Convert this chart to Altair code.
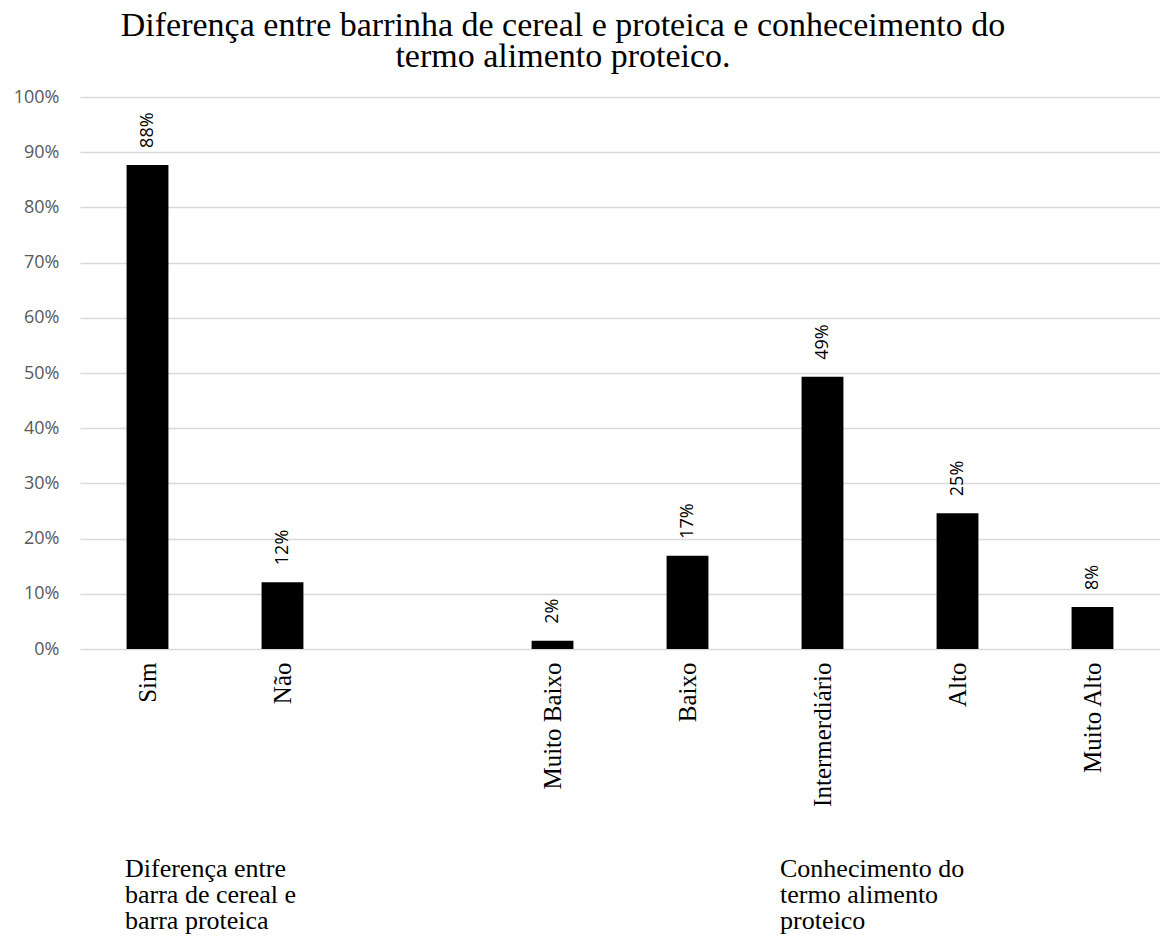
import altair as alt
import pandas as pd

# Category slots on the x axis (" " is the empty gap between the two groups)
categories = ["Sim", "Não", " ", "Muito Baixo", "Baixo", "Intermerdiário", "Alto", "Muito Alto"]
bar_categories = ["Sim", "Não", "Muito Baixo", "Baixo", "Intermerdiário", "Alto", "Muito Alto"]
values = [0.877, 0.121, 0.015, 0.169, 0.493, 0.246, 0.076]
value_labels = ["88%", "12%", "2%", "17%", "49%", "25%", "8%"]
y_ticks = [0.0, 0.1, 0.2, 0.3, 0.4, 0.5, 0.6, 0.7, 0.8, 0.9, 1.0]
title_lines = [
    "Diferença entre barrinha de cereal e proteica e conheceimento do",
    "termo alimento proteico.",
]
group_label_1 = "Diferença entre\nbarra de cereal e\nbarra proteica"
group_label_2 = "Conhecimento do\ntermo alimento\nproteico"

df = pd.DataFrame({"cat": bar_categories, "val": values, "lab": value_labels})

x_enc = alt.X(
    "cat:N",
    sort=categories,
    scale=alt.Scale(domain=categories, paddingInner=0.69, paddingOuter=0.345),
    axis=alt.Axis(
        title=None,
        labelAngle=-90,
        labelFont="Liberation Serif",
        labelFontSize=25,
        labelColor="black",
        labelPadding=13,
        ticks=False,
        domain=False,
        grid=False,
        labelLimit=300,
    ),
)
y_enc = alt.Y(
    "val:Q",
    scale=alt.Scale(domain=[0, 1]),
    axis=alt.Axis(
        title=None,
        values=y_ticks,
        format=".0%",
        labelFont="Open Sans",
        labelFontSize=18,
        labelColor="#595959",
        labelPadding=21,
        ticks=False,
        domain=False,
        gridColor="#d9d9d9",
        gridWidth=1.5,
    ),
)

bars = alt.Chart(df).mark_bar(color="black").encode(x=x_enc, y=y_enc)

texts = alt.Chart(df).mark_text(
    angle=270, align="left", baseline="middle", dx=17,
    font="Open Sans", fontSize=18, color="black",
).encode(x=alt.X("cat:N", sort=categories), y="val:Q", text="lab:N")

g1 = alt.Chart(pd.DataFrame({"t": [group_label_1]})).mark_text(
    align="left", baseline="alphabetic", lineBreak="\n",
    font="Liberation Serif", fontSize=26, lineHeight=26, color="black",
).encode(x=alt.value(45), y=alt.value(780), text="t:N")

g2 = alt.Chart(pd.DataFrame({"t": [group_label_2]})).mark_text(
    align="left", baseline="alphabetic", lineBreak="\n",
    font="Liberation Serif", fontSize=26, lineHeight=26, color="black",
).encode(x=alt.value(700), y=alt.value(780), text="t:N")

chart = alt.layer(bars, texts, g1, g2).properties(
    width=1080,
    height=552,
    autosize="none",
    padding={"left": 80, "top": 97, "right": 0, "bottom": 287},
    title=alt.TitleParams(
        text=title_lines,
        font="Liberation Serif",
        fontSize=34,
        fontWeight="normal",
        color="black",
        anchor="middle",
        dx=-57,
        lineHeight=31,
        offset=14,
    ),
).configure_view(stroke=None)

chart.save("out.html", embed_options={"renderer": "svg", "actions": False})
